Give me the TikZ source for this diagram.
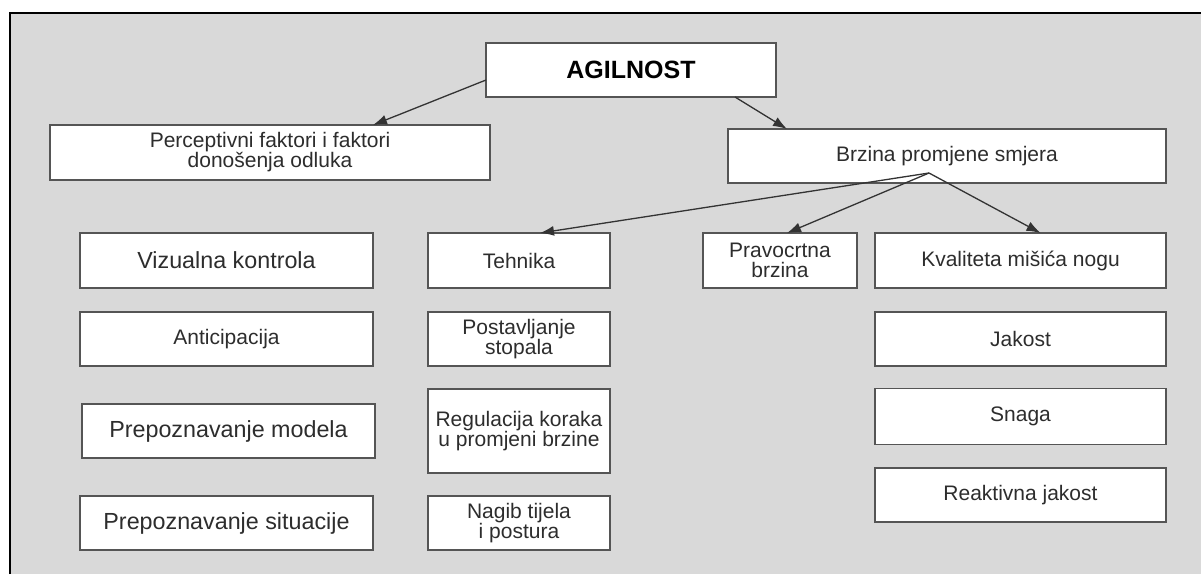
\documentclass[tikz,border=0pt]{standalone}
\usepackage{fontspec}
\setmainfont{Liberation Sans}
\usetikzlibrary{arrows.meta}
\definecolor{panel}{RGB}{217,217,217}
\definecolor{boxline}{RGB}{85,85,85}
\definecolor{txt}{RGB}{45,45,45}
\begin{document}
\begin{tikzpicture}[x=1pt,y=-1pt,
    box/.style={draw=boxline,line width=1.5pt,fill=white,text=txt,align=center,
      inner sep=0pt,outer sep=0pt,minimum height=54pt,
      font=\fontsize{21}{20}\selectfont},
    bigbox/.style={box,font=\fontsize{23.3}{22}\selectfont},
    arr/.style={-{Latex[length=14pt,width=10pt]},draw=black!80,line width=1.3pt}]
      \useasboundingbox (0,0) rectangle (1201,574);
      \fill[panel] (10,13) rectangle (1201,574);
      \draw[line width=2.5pt] (10,574) -- (10,13) -- (1201,13);
      \node[box,minimum width=290pt,text=black,font=\bfseries\fontsize{25}{25}\selectfont] (agil) at (631,70) {AGILNOST};
      \node[box,minimum width=440pt,minimum height=55pt] (perc) at (270,152.5) {Perceptivni faktori i faktori\\donošenja odluka};
      \node[box,minimum width=438pt] (brzina) at (947,156) {Brzina promjene smjera};
      \node[bigbox,minimum width=293pt,minimum height=55pt] (viz) at (226.5,260.5) {Vizualna kontrola};
      \node[box,minimum width=293pt] (antic) at (226.5,339) {Anticipacija};
      \node[bigbox,minimum width=293pt] (model) at (228.5,431) {Prepoznavanje modela};
      \node[bigbox,minimum width=293pt] (sit) at (226.5,523) {Prepoznavanje situacije};
      \node[box,minimum width=182pt,minimum height=55pt] (tehnika) at (519,260.5) {Tehnika};
      \node[box,minimum width=182pt] (postav) at (519,339) {Postavljanje\\stopala};
      \node[box,minimum width=182pt,minimum height=84pt] (regul) at (519,431) {Regulacija koraka\\u promjeni brzine};
      \node[box,minimum width=182pt] (nagib) at (519,523) {Nagib tijela\\i postura};
      \node[box,minimum width=154pt,minimum height=55pt] (pravo) at (780,260.5) {Pravocrtna\\brzina};
      \node[box,minimum width=291pt,minimum height=55pt] (kval) at (1020.5,260.5) {Kvaliteta mišića nogu};
      \node[box,minimum width=291pt] (jakost) at (1020.5,339) {Jakost};
      \node[box,minimum width=291pt,minimum height=56pt] (snaga) at (1020.5,416.5) {Snaga};
      \node[box,minimum width=291pt] (reakt) at (1020.5,495) {Reaktivna jakost};
      \coordinate (fan) at ([xshift=-18pt,yshift=-17pt]brzina.center);
      \draw[arr] ([yshift=-10pt]agil.west) -- ([xshift=103pt]perc.north);
      \draw[arr] ([xshift=104pt]agil.south) -- ([xshift=-160pt]brzina.north);
      \draw[arr] (fan) -- ([xshift=21pt]tehnika.north);
      \draw[arr] (fan) -- ([xshift=7pt]pravo.north);
      \draw[arr] (fan) -- ([xshift=20pt]kval.north);
    \end{tikzpicture}
\end{document}
